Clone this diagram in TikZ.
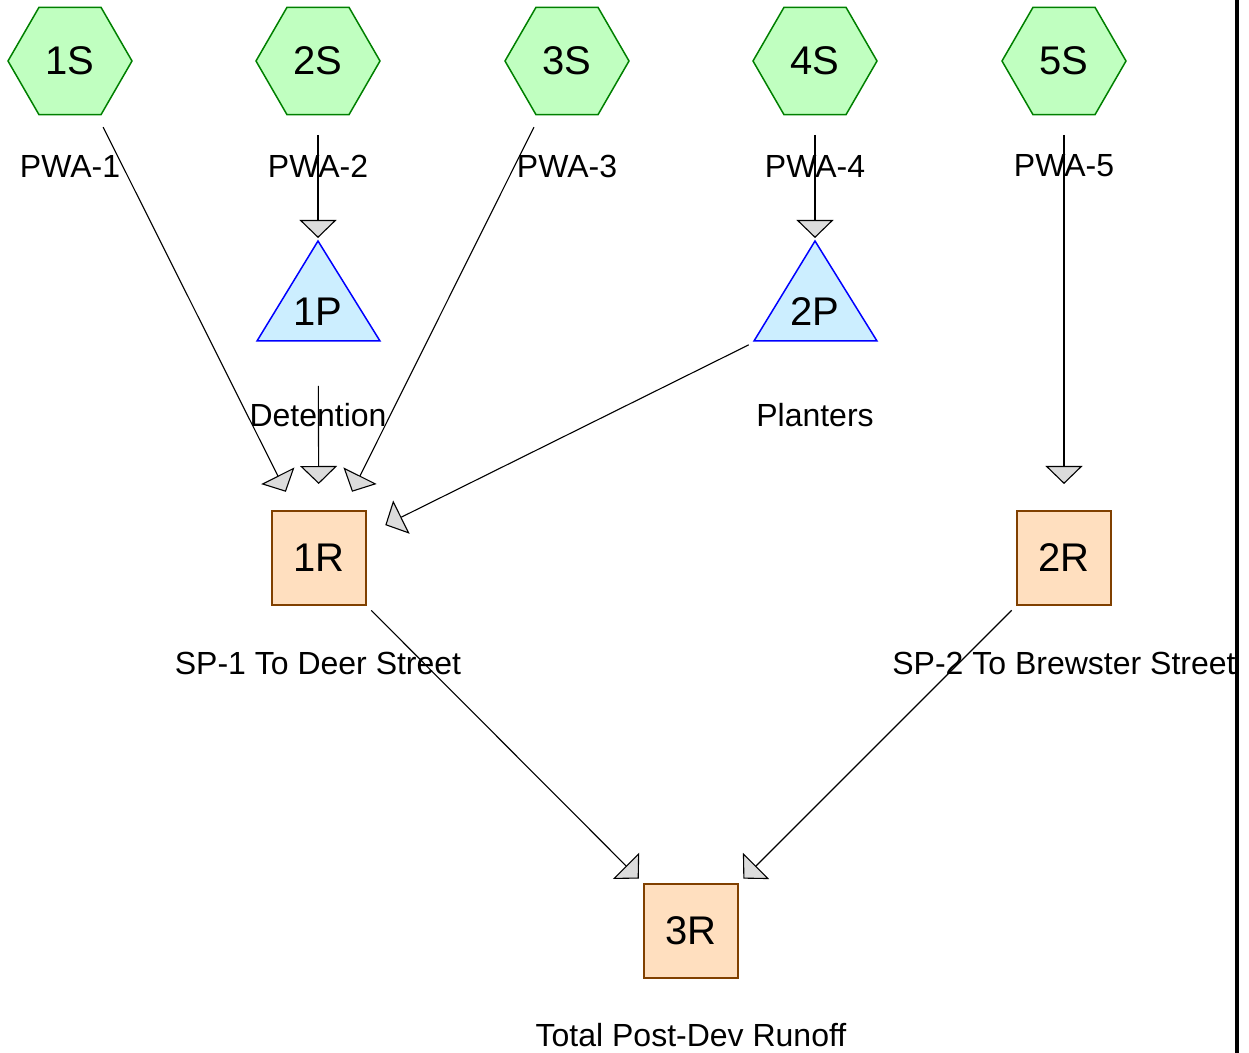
\documentclass[tikz,border=0pt]{standalone}
\usepackage{fontspec}
\setmainfont{Liberation Sans}
\usepackage{tikz}
\usetikzlibrary{arrows.meta,shapes.geometric}
\definecolor{subfill}{HTML}{C0FFC0}
\definecolor{subline}{HTML}{008000}
\definecolor{pondfill}{HTML}{CCEEFF}
\definecolor{pondline}{HTML}{0000FF}
\definecolor{reachfill}{HTML}{FFDFBF}
\definecolor{reachline}{HTML}{804000}
\definecolor{tipfill}{HTML}{DCDCDC}
\tikzset{
    subcat/.style={draw=subline, fill=subfill, line width=0.75pt, regular polygon, regular polygon sides=6,
        minimum size=62pt, inner sep=0pt, font=\fontsize{20}{21}\selectfont},
    pondtri/.style={draw=pondline, fill=pondfill, line width=0.75pt},
    pondtxt/.style={inner sep=0pt, font=\fontsize{20}{21}\selectfont},
    reach/.style={draw=reachline, fill=reachfill, line width=0.75pt, rectangle, minimum size=47pt,
        inner sep=0pt, font=\fontsize{20}{21}\selectfont},
    lbl/.style={inner sep=0pt, font=\fontsize{16}{17}\selectfont},
    flow/.style={line width=0.55pt, -{Triangle[length=9pt,width=18.5pt,fill=tipfill]},
        shorten <=37pt, shorten >=37pt}
}

\begin{document}
\begin{tikzpicture}[x=0.5pt, y=-0.5pt]
        \useasboundingbox (0,0) rectangle (1249,1053);

        % subcatchments
        \node[subcat] (sub1) at (70,61) {1S};
        \node[subcat] (sub2) at (318,61) {2S};
        \node[subcat] (sub3) at (567,61) {3S};
        \node[subcat] (sub4) at (815,61) {4S};
        \node[subcat] (sub5) at (1064,61) {5S};
        \node[lbl] (sub1lbl) at (70,166) {PWA-1};
        \node[lbl] (sub2lbl) at (318,166) {PWA-2};
        \node[lbl] (sub3lbl) at (567,166) {PWA-3};
        \node[lbl] (sub4lbl) at (815,166) {PWA-4};
        \node[lbl] (sub5lbl) at (1064,166) {PWA-5};

        % ponds
        \filldraw[pondtri] (257,341) -- (318,241) -- (380,341) -- cycle;
        \filldraw[pondtri] (754,341) -- (815,241) -- (877,341) -- cycle;
        \node[pondtxt] (pond1) at (318,312) {1P};
        \node[pondtxt] (pond2) at (815,312) {2P};
        \node[lbl] (pond1lbl) at (318,415) {Detention};
        \node[lbl] (pond2lbl) at (815,415) {Planters};

        % reaches
        \node[reach] (reach1) at (319,558) {1R};
        \node[reach] (reach2) at (1064,558) {2R};
        \node[reach] (reach3) at (691,931) {3R};
        \node[lbl] (reach1lbl) at (318,663) {SP-1 To Deer Street};
        \node[lbl] (reach2lbl) at (1064,663) {SP-2 To Brewster Street};
        \node[lbl] (reach3lbl) at (691,1035) {Total Post-Dev Runoff};

        \draw[flow] (sub1.center) -- (reach1.center);
        \draw[flow] (sub2.center) -- (pond1.center);
        \draw[flow] (sub3.center) -- (reach1.center);
        \draw[flow] (sub4.center) -- (pond2.center);
        \draw[flow] (sub5.center) -- (reach2.center);
        \draw[flow] (pond1.center) -- (reach1.center);
        \draw[flow] (pond2.center) -- (reach1.center);
        \draw[flow] (reach1.center) -- (reach3.center);
        \draw[flow] (reach2.center) -- (reach3.center);

        \draw[line width=2pt] (1237,0) -- (1237,1053);
    \end{tikzpicture}
\end{document}
